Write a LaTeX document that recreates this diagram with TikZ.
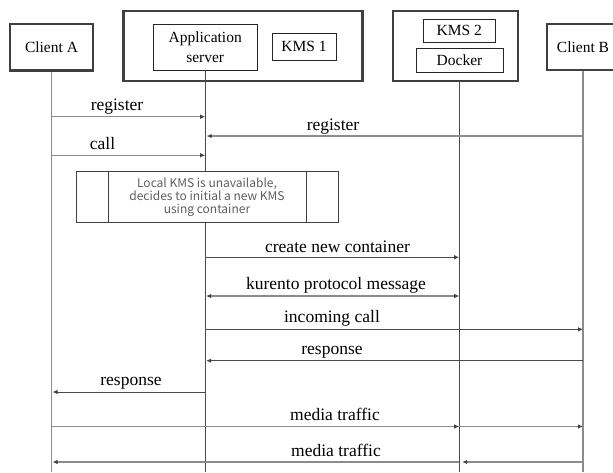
\documentclass[tikz,border=0pt]{standalone}
\usepackage{fontspec}
\setmainfont{Liberation Serif}
\newfontfamily\notefont{Noto Sans CJK JP}
\usetikzlibrary{arrows.meta}
\definecolor{boxline}{HTML}{404040}
\definecolor{darkline}{HTML}{4A4A4A}
\definecolor{lightline}{HTML}{8C8C8C}
\definecolor{notetext}{HTML}{5E5E5E}
\begin{document}
\begin{tikzpicture}[x=1pt,y=-1pt,
  thickbox/.style={draw=boxline,line width=2.3pt},
  actor/.style={thickbox,fill=white,inner sep=0pt,align=center,font=\fontsize{15.5}{20}\selectfont},
  thinbox/.style={draw=black!85,line width=0.9pt,fill=white,inner sep=0pt,align=center,font=\fontsize{15.5}{20}\selectfont},
  lifelight/.style={draw=lightline,line width=1.2pt},
  lifedark/.style={draw=darkline,line width=1pt},
  tip/.tip={Latex[length=5pt,width=4.5pt,color=boxline]},
  msglight/.style={draw=lightline,line width=1.3pt},
  msgdark/.style={draw=darkline,line width=1pt},
  lbl/.style={anchor=base,inner sep=0pt,font=\fontsize{17.5}{20}\selectfont},
  notebox/.style={draw=black!75,line width=0.9pt,fill=white,inner sep=0pt,align=center,text=notetext,font=\notefont\fontsize{12}{13.4}\selectfont}
]
\useasboundingbox (0,0) rectangle (613,472);
\coordinate (bottom) at (0,472);

% headers
\node[actor,minimum width=83pt,minimum height=46.5pt] (ca) at (51.5,47.3) {Client A};
\node[thickbox,minimum width=239pt,minimum height=70pt] (appout) at (243,46) {};
\node[thinbox,minimum width=103.7pt,minimum height=46pt] (app) at (205.2,47) {Application\\server};
\node[thinbox,minimum width=64pt,minimum height=27pt] (kms1) at (304,46.5) {KMS 1};
\node[thickbox,minimum width=125pt,minimum height=70pt] (kmsout) at (455.2,46) {};
\node[thinbox,minimum width=72pt,minimum height=23.7pt] (kms2) at (459.2,30.8) {KMS 2};
\node[thinbox,minimum width=87pt,minimum height=24pt] (docker) at (459.5,60) {Docker};
\node[actor,minimum width=72pt,minimum height=46pt] (cb) at (583,47) {Client B};

% lifelines
\draw[lifelight] (ca.south) -- (ca.south |- bottom);
\draw[lifedark] (app.south) -- (app.south |- bottom);
\draw[lifedark] (kms2 |- kmsout.south) -- (kms2 |- bottom);
\draw[lifelight] (cb.south) -- (cb.south |- bottom);

% rows
\coordinate (r1) at (0,116.7);
\coordinate (r2) at (0,136);
\coordinate (r3) at (0,155.3);
\coordinate (r4) at (0,257.3);
\coordinate (r5) at (0,296);
\coordinate (r6) at (0,329.3);
\coordinate (r7) at (0,360.7);
\coordinate (r8) at (0,392);
\coordinate (r9) at (0,426.5);
\coordinate (r10) at (0,462);

% messages
\draw[msglight,-tip] (ca |- r1) -- (app |- r1);
\node[lbl] (l1) at (117,110) {register};
\draw[msglight,-tip] (cb |- r2) -- ([xshift=1.5pt]app |- r2);
\node[lbl] (l2) at (333,130.5) {register};
\draw[msglight,-tip] (ca |- r3) -- (app |- r3);
\node[lbl] (l3) at (102.5,149) {call};

\node[notebox,minimum width=262pt,minimum height=51pt] (note) at (207,197.2)
  {Local KMS is unavailable,\\decides to initial a new KMS\\using container};
\draw[black!75,line width=0.9pt] ([xshift=33.3pt]note.north west) -- ([xshift=33.3pt]note.south west);
\draw[black!75,line width=0.9pt] ([xshift=-32.3pt]note.north east) -- ([xshift=-32.3pt]note.south east);

\draw[msgdark,-tip] (app |- r4) -- (kms2 |- r4);
\node[lbl] (l4) at (337.5,252.5) {create new container};
\draw[msglight,tip-tip] ([xshift=1pt]app |- r5) -- (kms2 |- r5);
\node[lbl] (l5) at (336,289.5) {kurento protocol message};
\draw[msgdark,-tip] (app |- r6) -- (cb |- r6);
\node[lbl] (l6) at (332,322.5) {incoming call};
\draw[msgdark,-tip] (cb |- r7) -- ([xshift=1pt]app |- r7);
\node[lbl] (l7) at (332,354) {response};
\draw[msgdark,-tip] (app |- r8) -- ([xshift=1pt]ca |- r8);
\node[lbl] (l8) at (131,385.3) {response};
\draw[msglight,-tip] (ca |- r9) -- (kms2 |- r9);
\draw[msglight,-tip] (kms2 |- r9) -- (cb |- r9);
\node[lbl] (l9) at (335,420.5) {media traffic};
\draw[msglight,-tip] (cb |- r10) -- ([xshift=3pt]kms2 |- r10);
\draw[msglight,-tip] (kms2 |- r10) -- ([xshift=1pt]ca |- r10);
\node[lbl] (l10) at (336,456.3) {media traffic};
\end{tikzpicture}
\end{document}
